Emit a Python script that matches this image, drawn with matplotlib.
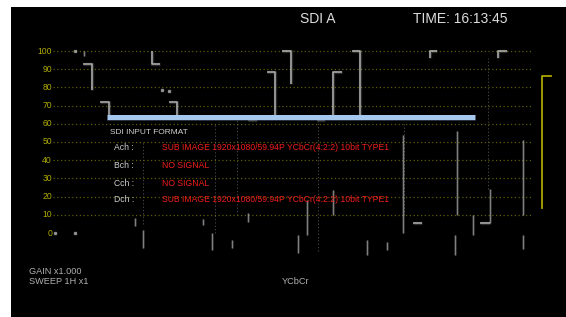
import matplotlib
matplotlib.use("Agg")
import matplotlib.pyplot as plt
from matplotlib.patches import Rectangle

# ---------------- data ----------------
grid_levels = [10, 20, 30, 40, 50, 60, 70, 80, 90, 100]
tick_levels = [0, 10, 20, 30, 40, 50, 60, 70, 80, 90, 100]
tick_labels = ["0", "10", "20", "30", "40", "50", "60", "70", "80", "90", "100"]

# step-shaped traces (sweep position %, level %)
trace_x = [
    [6.3, 8.1, 8.1],
    [9.8, 11.7, 11.7],
    [20.7, 20.7, 22.3],
    [24.2, 25.9, 25.9],
    [40.7, 42.6],
    [44.7, 46.3, 46.3],
    [47.8, 49.7, 49.7],
    [55.1, 56.8],
    [60.3, 58.5, 58.5],
    [62.4, 64.1, 64.1],
    [80.2, 78.7, 78.7],
    [94.8, 92.9, 92.9],
    [77.0, 75.2],
    [89.1, 91.2],
]
trace_y = [
    [92.9, 92.9, 78.6],
    [72.0, 72.0, 65.0],
    [100.0, 93.0, 93.0],
    [72.0, 72.0, 65.0],
    [62.0, 62.0],
    [88.5, 88.5, 65.0],
    [100.0, 100.0, 82.0],
    [62.0, 62.0],
    [88.5, 88.5, 65.0],
    [100.0, 100.0, 65.0],
    [100.0, 100.0, 96.0],
    [100.0, 100.0, 96.0],
    [5.5, 5.5],
    [5.5, 5.5],
]

# short vertical blips (x, y_top, y_bottom)
blip_x = [6.5, 18.8, 17.1, 31.3, 33.2, 37.4, 40.7, 51.1, 53.0, 58.5, 65.6, 69.7,
          73.1, 83.9, 87.7, 98.1, 84.3, 98.1, 91.2]
blip_top = [100.0, 1.6, 8.0, 7.7, 0.0, -3.8, 11.0, -1.0, 18.0, 23.6, -3.8, -5.0,
            54.0, -1.0, 10.0, -1.0, 56.0, 51.0, 24.0]
blip_bot = [97.0, -8.2, 4.0, 4.4, -9.3, -8.2, 6.0, -11.0, -1.0, 10.0, -12.0, -9.3,
            0.0, -12.0, -1.0, -9.0, 10.0, 10.0, 5.5]

# faint long verticals
faint_x = [33.8, 38.4, 55.3, 18.8, 90.8, 73.3]
faint_top = [60.0, 63.0, 63.0, 50.0, 96.0, 60.0]
faint_bot = [0.0, 10.0, -10.0, 5.0, 24.0, 10.0]

# isolated dots
dot_x = [0.4, 4.6, 22.8, 24.2, 4.6]
dot_y = [0.0, 0.0, 78.6, 78.0, 100.0]

# highlight bar and bracket
bar_x = [11.3, 88.1]
bar_level = 63.7
bracket_x = 102.0
bracket_top = 86.0
bracket_bot = 14.0

header_left = "SDI A"
header_right = "TIME: 16:13:45"
format_title = "SDI INPUT FORMAT"
channels = ["Ach :", "Bch :", "Cch :", "Dch :"]
channel_status = [
    "SUB IMAGE 1920x1080/59.94P YCbCr(4:2:2) 10bit TYPE1",
    "NO SIGNAL",
    "NO SIGNAL",
    "SUB IMAGE 1920x1080/59.94P YCbCr(4:2:2) 10bit TYPE1",
]
status_lines = ["GAIN x1.000", "SWEEP 1H x1"]
mode_label = "YCbCr"

# ---------------- layout helpers ----------------
W, H = 566, 317
X0PX, XSCALE = 53.0, 4.79     # px of sweep 0, px per %
Y0PX, YSCALE = 233.0, 1.82    # px of level 0, px per %


def P(px, py):
    return (px - X0PX) / XSCALE, (Y0PX - py) / YSCALE


fig = plt.figure(figsize=(W / 100, H / 100), dpi=100, facecolor="white")
ax = fig.add_axes([0, 0, 1, 1])
ax.set_xlim(P(0, 0)[0], P(W, 0)[0])
ax.set_ylim(P(0, H)[1], P(0, 0)[1])
ax.axis("off")

ax.add_patch(Rectangle((11 / W, 0), 1 - 11 / W, 1 - 7 / H,
                       transform=fig.transFigure, facecolor="black",
                       edgecolor="none", zorder=0))

FONT = "Liberation Sans"
yellow = "#c4c000"
grid_c = "#5e5c00"
trace_c = "#c8c8c8"
text_c = "#cfcfcf"
red = "#f01c1c"

# grid
ax.hlines(grid_levels, 0, 100, colors=grid_c, linestyles=(0, (1, 2)), lw=0.9, zorder=1)
for lv, lab in zip(tick_levels, tick_labels):
    ax.text(P(52, 0)[0], lv, lab, color=yellow, fontsize=6.2, ha="right",
            va="center", family=FONT, zorder=3, alpha=0.9)

# faint verticals
ax.vlines(faint_x, faint_bot, faint_top, colors="#777777", lw=0.6,
          linestyles=(0, (1.5, 2.5)), alpha=0.7, zorder=2)
# blips
ax.vlines(blip_x, blip_bot, blip_top, colors=trace_c, lw=2.0, alpha=0.2, zorder=2)
ax.vlines(blip_x, blip_bot, blip_top, colors=trace_c, lw=0.8, alpha=0.55, zorder=2)
# traces
for xs, ys in zip(trace_x, trace_y):
    ax.plot(xs, ys, color=trace_c, lw=2.4, alpha=0.2, solid_capstyle="butt", zorder=3)
    ax.plot(xs, ys, color=trace_c, lw=1.1, alpha=0.85, solid_capstyle="butt", zorder=3)
ax.plot(dot_x, dot_y, "s", color=trace_c, ms=1.6, alpha=0.6, zorder=3)

# bar
ax.plot(bar_x, [bar_level, bar_level], color="#a6c8ee", lw=3.6,
        solid_capstyle="butt", zorder=4)
ax.plot(bar_x, [bar_level - 1.8, bar_level - 1.8], color="#3a4a5a", lw=0.5, zorder=4)

# bracket
ax.plot([bracket_x + 2.0, bracket_x, bracket_x, ],
        [bracket_top, bracket_top, bracket_bot], color="#a9a600", lw=1.3, zorder=4)

# header
ax.text(*P(300, 19), header_left, color="#dddddd", fontsize=10, family=FONT,
        va="center", ha="left")
ax.text(*P(413, 19), header_right, color="#dddddd", fontsize=10, family=FONT,
        va="center", ha="left")

# format box
ax.text(*P(110, 132), format_title, color=text_c, fontsize=6.0, family=FONT,
        va="center", ha="left", zorder=5)
row_y = [147, 165, 183, 200]
for ch, st, ry in zip(channels, channel_status, row_y):
    ax.text(*P(114, ry), ch, color=text_c, fontsize=6.2, family=FONT,
            va="center", ha="left", zorder=5)
    ax.text(*P(162, ry), st, color=red, fontsize=6.2, family=FONT,
            va="center", ha="left", zorder=5)

# status
ax.text(*P(29, 272), status_lines[0], color="#b0b0b0", fontsize=6.6, family=FONT,
        va="center", ha="left")
ax.text(*P(29, 281), status_lines[1], color="#b0b0b0", fontsize=6.6, family=FONT,
        va="center", ha="left")
ax.text(*P(282, 281), mode_label, color="#b0b0b0", fontsize=6.6, family=FONT,
        va="center", ha="left")

fig.savefig("out.png", dpi=100, facecolor="white")
